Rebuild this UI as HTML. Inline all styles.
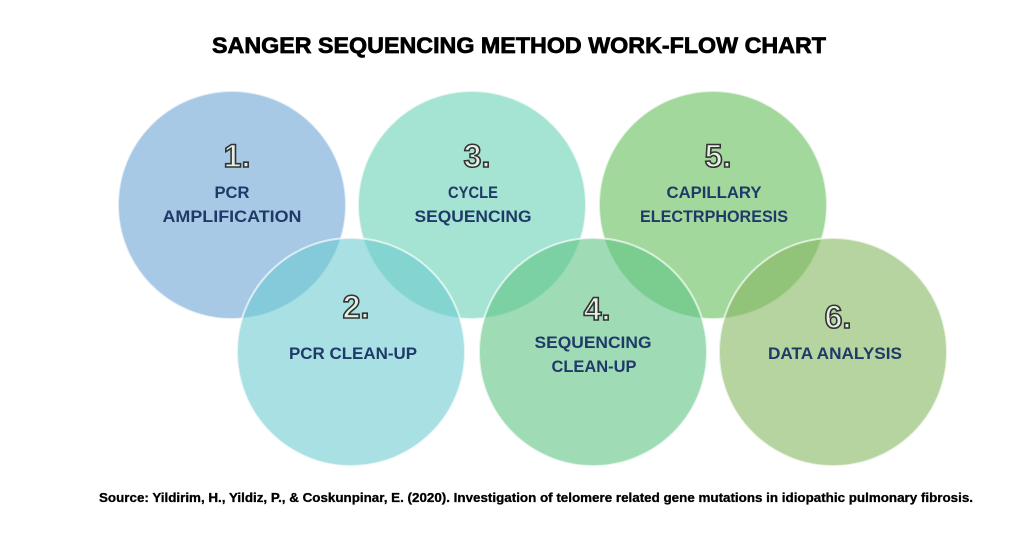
<!DOCTYPE html>
<html>
<head>
<meta charset="utf-8">
<style>
html,body{margin:0;padding:0;background:#fff;}
svg{display:block;}
</style>
</head>
<body>
<svg width="1024" height="538" viewBox="0 0 1024 538" xmlns="http://www.w3.org/2000/svg">
<rect width="1024" height="538" fill="#ffffff"/>
<text x="519" y="53" text-anchor="middle" font-family="Liberation Sans, sans-serif" font-weight="bold" font-size="22" fill="#000" stroke="#000" stroke-width="0.7" textLength="614" lengthAdjust="spacingAndGlyphs">SANGER SEQUENCING METHOD WORK-FLOW CHART</text>

<g stroke="#ffffff" stroke-opacity="0.65" stroke-width="2">
<circle cx="232" cy="205" r="114" fill="rgb(110,165,213)" fill-opacity="0.6"/>
<circle cx="472" cy="205" r="114" fill="rgb(105,210,182)" fill-opacity="0.6"/>
<circle cx="713" cy="205" r="114" fill="rgb(102,190,92)" fill-opacity="0.6"/>
<circle cx="351" cy="352" r="114" fill="rgb(110,203,210)" fill-opacity="0.6"/>
<circle cx="593" cy="352" r="114" fill="rgb(95,197,133)" fill-opacity="0.6"/>
<circle cx="833" cy="352" r="114" fill="rgb(133,183,95)" fill-opacity="0.6"/>
</g>

<g font-family="Liberation Sans, sans-serif" font-weight="bold" font-size="32" fill="#e4f0e4" stroke="#333" stroke-width="1.6" text-anchor="middle">
<text x="237" y="167">1.</text>
<text x="477" y="167">3.</text>
<text x="718" y="167">5.</text>
<text x="356" y="318">2.</text>
<text x="597" y="320">4.</text>
<text x="838" y="328">6.</text>
</g>

<g font-family="Liberation Sans, sans-serif" font-weight="bold" font-size="17" fill="#1f3a68" text-anchor="middle">
<text x="232" y="198" textLength="35" lengthAdjust="spacingAndGlyphs">PCR</text>
<text x="232" y="222" textLength="139" lengthAdjust="spacingAndGlyphs">AMPLIFICATION</text>
<text x="473" y="198" textLength="50" lengthAdjust="spacingAndGlyphs">CYCLE</text>
<text x="473" y="222" textLength="117" lengthAdjust="spacingAndGlyphs">SEQUENCING</text>
<text x="714" y="198" textLength="95" lengthAdjust="spacingAndGlyphs">CAPILLARY</text>
<text x="714" y="222" textLength="148" lengthAdjust="spacingAndGlyphs">ELECTRPHORESIS</text>
<text x="353" y="359" textLength="128" lengthAdjust="spacingAndGlyphs">PCR CLEAN-UP</text>
<text x="593" y="348" textLength="117" lengthAdjust="spacingAndGlyphs">SEQUENCING</text>
<text x="594" y="372" textLength="85" lengthAdjust="spacingAndGlyphs">CLEAN-UP</text>
<text x="835" y="359" textLength="134" lengthAdjust="spacingAndGlyphs">DATA ANALYSIS</text>
</g>

<text x="536" y="502" text-anchor="middle" font-family="Liberation Sans, sans-serif" font-weight="bold" font-size="12.5" fill="#000" stroke="#000" stroke-width="0.3" textLength="874" lengthAdjust="spacingAndGlyphs">Source: Yildirim, H., Yildiz, P., &amp; Coskunpinar, E. (2020). Investigation of telomere related gene mutations in idiopathic pulmonary fibrosis.</text>
</svg>
</body>
</html>
